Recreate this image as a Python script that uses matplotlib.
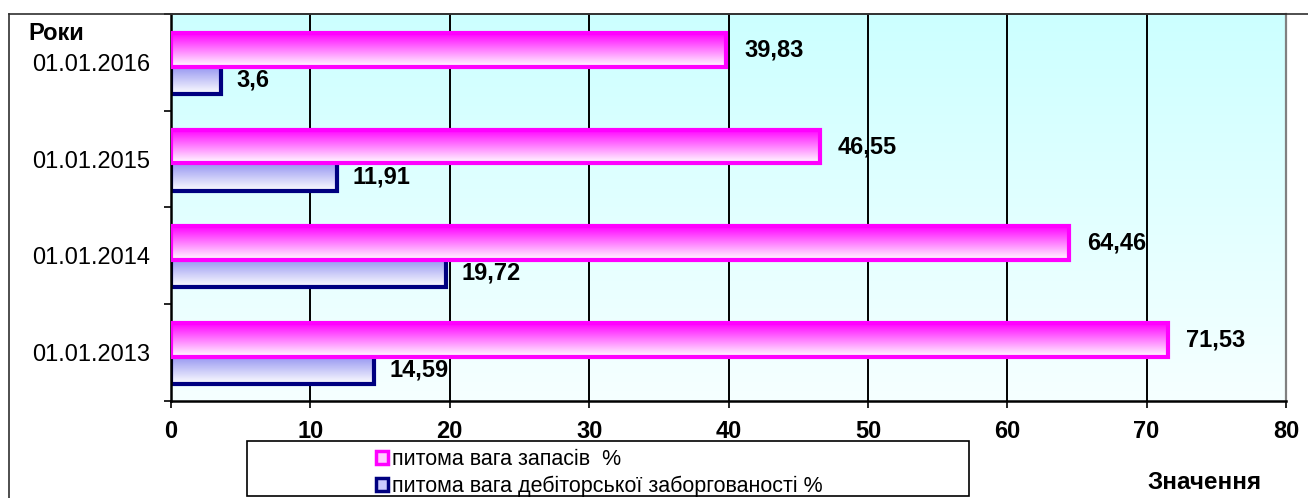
import numpy as np
import matplotlib
matplotlib.use("Agg")
import matplotlib.pyplot as plt
from matplotlib.patches import Patch, Rectangle
from matplotlib.lines import Line2D
from matplotlib.colors import to_rgb

plt.rcParams['font.family'] = ['Liberation Sans', 'DejaVu Sans']

# ---- data ----
categories = ['01.01.2013', '01.01.2014', '01.01.2015', '01.01.2016']
zapasy = [71.53, 64.46, 46.55, 39.83]
debitor = [14.59, 19.72, 11.91, 3.6]
zapasy_labels = ['71,53', '64,46', '46,55', '39,83']
debitor_labels = ['14,59', '19,72', '11,91', '3,6']
legend_labels = ['питома вага запасів  %', 'питома вага дебіторської заборгованості %']
x_ticks = [0, 10, 20, 30, 40, 50, 60, 70, 80]

W, H = 1308, 498
fig = plt.figure(figsize=(W / 100, H / 100), dpi=100)
ax = fig.add_axes([171 / W, (H - 401) / H, (1286 - 171) / W, (401 - 14) / H])
ax.set_facecolor('none')

# background gradient
top_c = np.array(to_rgb('#ccffff'))
bot_c = np.array(to_rgb('#f6ffff'))
t = np.linspace(0, 1, 256)[:, None, None]
bg = top_c * (1 - t) + bot_c * t
bg = np.repeat(bg, 2, axis=1)
ax.imshow(bg, extent=(0, 1, 0, 1), transform=ax.transAxes, aspect='auto',
          zorder=0.1, interpolation='bilinear')

y = np.arange(len(categories))
h = 0.35
off_m = 0.13
off_b = -0.15


def gradient_bars(vals, ypos, color_top, color_bot, edge, z):
    bars = ax.barh(ypos, vals, height=h, facecolor='none', edgecolor=edge,
                   linewidth=3.0, zorder=z + 0.5)
    ct = np.array(to_rgb(color_top))
    cb = np.array(to_rgb(color_bot))
    g = ct * (1 - t) + cb * t
    g = np.repeat(g, 2, axis=1)
    for b in bars:
        x0, y0 = b.get_x(), b.get_y()
        ax.imshow(g, extent=(x0, x0 + b.get_width(), y0, y0 + b.get_height()),
                  aspect='auto', zorder=z, interpolation='bilinear')
    return bars


gradient_bars(debitor, y + off_b, '#7d7dee', '#ffffff', '#000080', 2)
gradient_bars(zapasy, y + off_m, '#ff00ff', '#ffffff', '#ff00ff', 3)

for yi, v, lab in zip(y, zapasy, zapasy_labels):
    ax.annotate(lab, (v, yi + off_m), xytext=(13, 0), textcoords='offset points',
                ha='left', va='center', fontsize=17, fontweight='bold', zorder=5)
for yi, v, lab in zip(y, debitor, debitor_labels):
    ax.annotate(lab, (v, yi + off_b - 0.03), xytext=(11, 0), textcoords='offset points',
                ha='left', va='center', fontsize=17, fontweight='bold', zorder=5)

ax.set_xlim(0, 80)
ax.set_ylim(-0.5, len(categories) - 0.5)
ax.set_xticks(x_ticks)
ax.set_xticklabels([str(v) for v in x_ticks], fontsize=17, fontweight='bold')
ax.set_yticks(np.arange(-0.5, len(categories), 1.0))
ax.set_yticklabels([])
ax.set_yticks(y, minor=True)
ax.set_yticklabels(categories, minor=True, fontsize=17)
ax.tick_params(axis='y', which='major', length=5, width=1.2, direction='out')
ax.tick_params(axis='y', which='minor', length=0, pad=15)
ax.tick_params(axis='x', which='major', length=5, width=1.2, direction='out', pad=9)

ax.set_axisbelow(True)
ax.grid(axis='x', color='black', linewidth=1.4, zorder=0.5)
ax.grid(axis='y', visible=False)

for s in ['left', 'bottom']:
    ax.spines[s].set_color('black')
    ax.spines[s].set_linewidth(1.8)
ax.spines['right'].set_color('#808080')
ax.spines['right'].set_linewidth(1.6)
ax.spines['top'].set_color('#303030')
ax.spines['top'].set_linewidth(1.2)

# outer frame (left and top edges)
fx, fy = 9 / W, 1 - 14 / H
fig.add_artist(Line2D([fx, fx], [0, fy], transform=fig.transFigure, color='#303030', lw=1.2))
fig.add_artist(Line2D([fx, 1], [fy, fy], transform=fig.transFigure, color='#303030', lw=1.2))

fig.text(28 / W, 1 - 33 / H, 'Роки', ha='left', va='center', fontsize=17, fontweight='bold')
fig.text(1205 / W, 1 - 482 / H, 'Значення', ha='center', va='center', fontsize=17.5, fontweight='bold')

# legend box
fig.add_artist(Rectangle((247 / W, 1 - 496 / H), (969 - 247) / W, (496 - 441) / H,
                         transform=fig.transFigure, facecolor='white', edgecolor='black', lw=1.2))
handles = [Patch(facecolor='#ffccff', edgecolor='#ff00ff', lw=2.5),
           Patch(facecolor='#ccccff', edgecolor='#000080', lw=2.5)]
leg = fig.legend(handles, legend_labels, loc='upper left',
                 bbox_to_anchor=(376 / W, 1 - 449 / H), frameon=False, fontsize=15.5,
                 borderpad=0, borderaxespad=0, handlelength=0.55, handleheight=0.55,
                 handletextpad=0.2, labelspacing=0.28)
leg.set_zorder(10)

fig.savefig('out.png', dpi=100)
